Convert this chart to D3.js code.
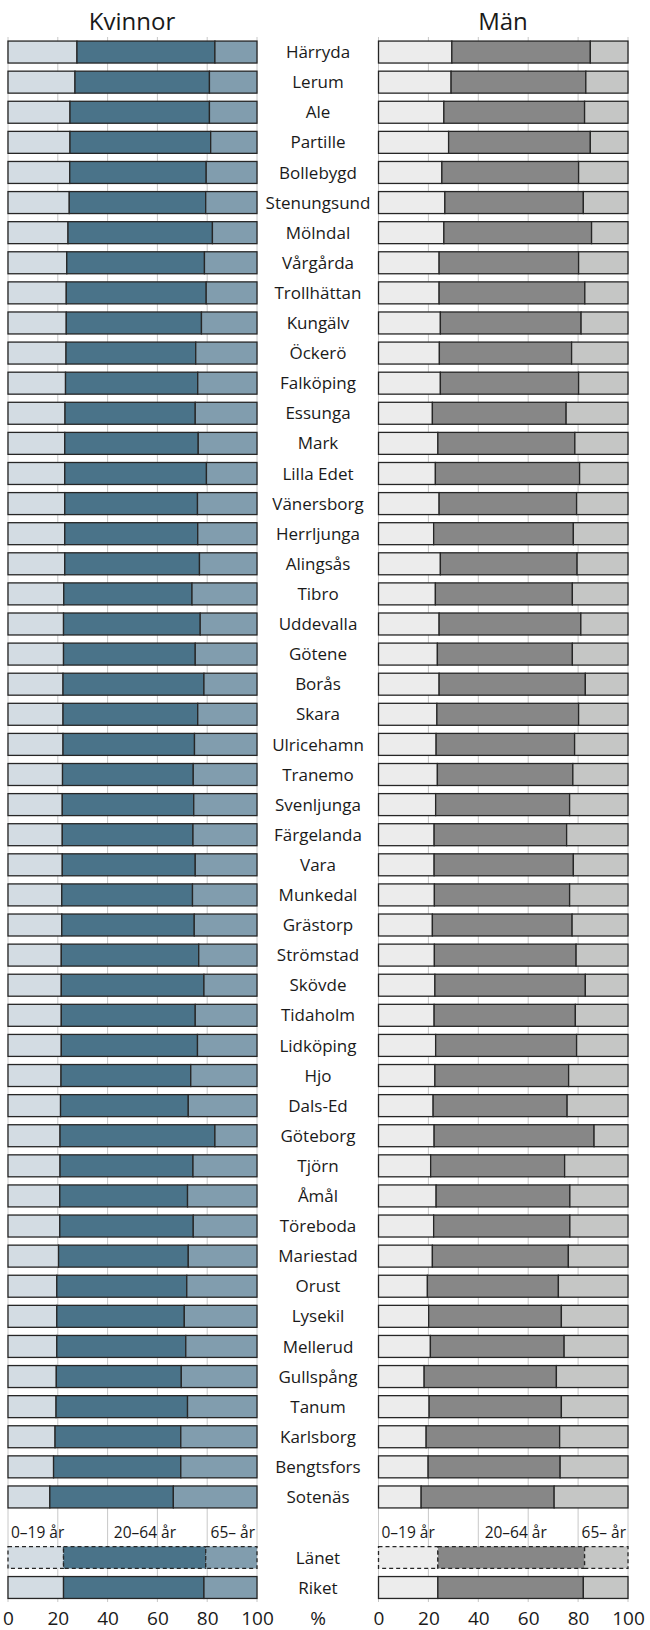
<!DOCTYPE html>
<html>
<head>
<meta charset="utf-8">
<script src="https://cdn.jsdelivr.net/npm/d3@7"></script>
<style>
  body { margin: 0; background: #fff; }
  text { font-family: "Open Sans", sans-serif; fill: #1a1a1a; }
</style>
</head>
<body>
<svg width="650" height="1630"></svg>
<script>
var kommuner = ["Härryda","Lerum","Ale","Partille","Bollebygd","Stenungsund","Mölndal","Vårgårda",
  "Trollhättan","Kungälv","Öckerö","Falköping","Essunga","Mark","Lilla Edet","Vänersborg",
  "Herrljunga","Alingsås","Tibro","Uddevalla","Götene","Borås","Skara","Ulricehamn","Tranemo",
  "Svenljunga","Färgelanda","Vara","Munkedal","Grästorp","Strömstad","Skövde","Tidaholm",
  "Lidköping","Hjo","Dals-Ed","Göteborg","Tjörn","Åmål","Töreboda","Mariestad","Orust",
  "Lysekil","Mellerud","Gullspång","Tanum","Karlsborg","Bengtsfors","Sotenäs"];

// andel i procent per åldersgrupp
var kvinnor0_19 = [27.7,26.9,24.9,24.9,24.8,24.6,24.1,23.6,23.4,23.4,23.3,23.1,22.9,22.8,22.8,22.8,
  22.8,22.8,22.4,22.3,22.3,22.1,22.1,22.1,21.9,21.8,21.8,21.8,21.6,21.6,21.4,21.4,21.4,21.4,21.3,
  21.1,20.9,20.9,20.8,20.8,20.3,19.6,19.6,19.6,19.4,19.3,18.9,18.3,16.8];
var kvinnor20_64 = [55.4,54.0,56.0,56.5,54.8,54.8,58.0,55.3,56.2,54.3,52.1,53.1,52.3,53.6,56.9,53.3,
  53.4,54.1,51.5,54.9,52.9,56.6,54.1,52.8,52.5,52.8,52.5,53.4,52.5,53.2,55.2,57.3,53.8,54.7,52.1,
  51.3,62.2,53.4,51.3,53.6,52.1,52.2,51.2,51.8,50.2,52.8,50.5,51.1,49.6];
var kvinnor65 = [16.9,19.1,19.1,18.6,20.4,20.6,17.9,21.1,20.4,22.3,24.6,23.8,24.8,23.6,20.3,23.9,
  23.8,23.1,26.1,22.8,24.8,21.3,23.8,25.1,25.6,25.4,25.7,24.8,25.9,25.2,23.4,21.3,24.8,23.9,26.6,
  27.6,16.9,25.7,27.9,25.6,27.6,28.2,29.2,28.6,30.4,27.9,30.6,30.6,33.6];

var man0_19 = [29.4,29.1,26.2,28.1,25.4,26.6,26.2,24.3,24.3,24.8,24.4,24.8,21.6,23.8,22.8,24.3,
  22.1,24.8,22.8,24.3,23.6,24.3,23.4,23.1,23.6,22.9,22.3,22.3,22.4,21.6,22.4,22.6,22.3,22.9,22.6,
  21.9,22.3,20.9,23.1,22.1,21.6,19.6,20.1,20.8,18.3,20.3,19.1,19.9,17.1];
var man20_64 = [55.5,54.0,56.4,56.8,54.8,55.5,59.2,55.9,58.4,56.4,53.0,55.4,53.6,54.9,57.8,55.1,
  56.0,54.8,54.9,56.8,54.1,58.6,56.8,55.5,54.3,53.7,53.1,55.8,54.2,56.0,56.8,60.3,56.6,56.5,53.6,
  53.7,64.1,53.7,53.6,54.6,54.5,52.5,53.2,53.6,53.0,53.0,53.5,52.9,53.3];
var man65 = [15.1,16.9,17.4,15.1,19.8,17.9,14.6,19.8,17.3,18.8,22.6,19.8,24.8,21.3,19.4,20.6,
  21.9,20.4,22.3,18.9,22.3,17.1,19.8,21.4,22.1,23.4,24.6,21.9,23.4,22.4,20.8,17.1,21.1,20.6,23.8,
  24.4,13.6,25.4,23.3,23.3,23.9,27.9,26.7,25.6,28.7,26.7,27.4,27.2,29.6];

var jamforelse = ["Länet","Riket"];
var jamfKvinnor0_19 = [22.3,22.3];
var jamfKvinnor20_64 = [57.1,56.4];
var jamfKvinnor65 = [20.6,21.3];
var jamfMan0_19 = [23.8,23.8];
var jamfMan20_64 = [58.8,58.3];
var jamfMan65 = [17.4,17.9];

var ticks = [0,20,40,60,80,100];
var grupper = ["0–19 år","20–64 år","65– år"];

var kvinnorFarger = ["#d3dce3","#4a7389","#819dae"];
var manFarger = ["#ececec","#878787","#c5c6c5"];

var svg = d3.select("svg");

var xK = d3.scaleLinear().domain([0,100]).range([8,257]);
var xM = d3.scaleLinear().domain([0,100]).range([378.5,628]);

var y = d3.scaleBand()
    .domain(kommuner)
    .range([37,1512])
    .paddingInner(0.27)
    .paddingOuter(0.135);

var yJ = d3.scaleBand()
    .domain(jamforelse)
    .range([1542.5,1602.5])
    .paddingInner(0.27)
    .paddingOuter(0.135);

function rader(namn, a, b, c) {
  return namn.map(function(n, i) {
    return { namn: n, ung: a[i], mitt: b[i], gammal: c[i] };
  });
}

var stack = d3.stack().keys(["ung","mitt","gammal"]);

function ritaPanel(x, farger, data, yScale, streckad) {
  var serier = stack(data);
  var g = svg.append("g");
  serier.forEach(function(s, si) {
    g.selectAll(null)
      .data(s)
      .enter()
      .append("rect")
      .attr("x", function(d) { return x(d[0]); })
      .attr("width", function(d) { return x(d[1]) - x(d[0]); })
      .attr("y", function(d) { return yScale(d.data.namn); })
      .attr("height", yScale.bandwidth())
      .attr("fill", farger[si])
      .attr("stroke", "#262626")
      .attr("stroke-width", 1.3)
      .attr("stroke-dasharray", streckad ? "4,3" : null);
  });
}

function ritaGrid(x) {
  svg.append("g")
    .selectAll("line")
    .data(ticks)
    .enter()
    .append("line")
    .attr("x1", function(d) { return x(d); })
    .attr("x2", function(d) { return x(d); })
    .attr("y1", 37)
    .attr("y2", 1602)
    .attr("stroke", "#c8c8c8")
    .attr("stroke-width", 1);
}

ritaGrid(xK);
ritaGrid(xM);

// kommunerna
ritaPanel(xK, kvinnorFarger, rader(kommuner, kvinnor0_19, kvinnor20_64, kvinnor65), y, false);
ritaPanel(xM, manFarger, rader(kommuner, man0_19, man20_64, man65), y, false);

// Länet streckad, Riket vanlig
var jK = rader(jamforelse, jamfKvinnor0_19, jamfKvinnor20_64, jamfKvinnor65);
var jM = rader(jamforelse, jamfMan0_19, jamfMan20_64, jamfMan65);
ritaPanel(xK, kvinnorFarger, jK.slice(0,1), yJ, true);
ritaPanel(xM, manFarger, jM.slice(0,1), yJ, true);
ritaPanel(xK, kvinnorFarger, jK.slice(1), yJ, false);
ritaPanel(xM, manFarger, jM.slice(1), yJ, false);

// namn i mitten
svg.append("g")
  .selectAll("text")
  .data(kommuner.concat(jamforelse))
  .enter()
  .append("text")
  .attr("x", 318)
  .attr("y", function(d) {
    return (kommuner.indexOf(d) >= 0 ? y(d) : yJ(d)) + y.bandwidth() / 2;
  })
  .attr("dy", "0.36em")
  .attr("text-anchor", "middle")
  .style("font-size", "17px")
  .text(function(d) { return d; });

// rubriker
svg.append("text").attr("x", 132).attr("y", 30).attr("text-anchor", "middle")
  .style("font-size", "24px").text("Kvinnor");
svg.append("text").attr("x", 503).attr("y", 30).attr("text-anchor", "middle")
  .style("font-size", "24px").text("Män");

// åldersgrupper ovanför Länet
[xK, xM].forEach(function(x) {
  svg.append("text").attr("x", x(0) + 3).attr("y", 1538)
    .style("font-size", "15.5px").text(grupper[0]);
  svg.append("text").attr("x", x(55)).attr("y", 1538).attr("text-anchor", "middle")
    .style("font-size", "15.5px").text(grupper[1]);
  svg.append("text").attr("x", x(100) - 2).attr("y", 1538).attr("text-anchor", "end")
    .style("font-size", "15.5px").text(grupper[2]);
});

// x-axlar
[xK, xM].forEach(function(x) {
  var ax = svg.append("g")
    .attr("transform", "translate(0,1602)")
    .call(d3.axisBottom(x).tickValues(ticks).tickSize(0).tickPadding(10));
  ax.select(".domain").remove();
  ax.selectAll("text")
    .style("font-family", "'Open Sans', sans-serif")
    .style("font-size", "19px")
    .attr("fill", "#1a1a1a");
});

svg.append("text").attr("x", 318).attr("y", 1625).attr("text-anchor", "middle")
  .style("font-size", "19px").text("%");
</script>
</body>
</html>
